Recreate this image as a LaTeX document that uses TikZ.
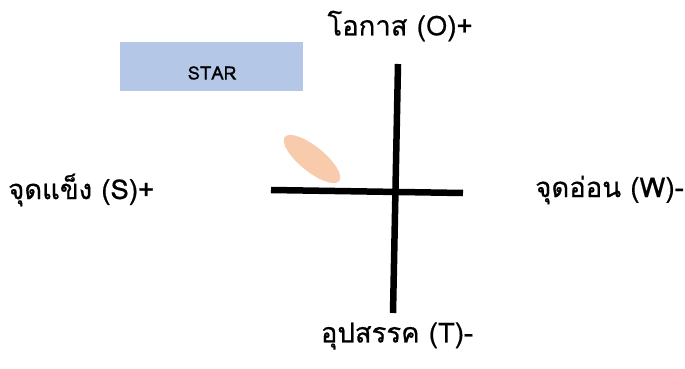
\documentclass[tikz,border=0pt]{standalone}
\usepackage{fontspec}
\usetikzlibrary{shapes.geometric}
\setmainfont{Loma}[Script=Thai]
\newfontfamily\lblfont{Loma}[Script=Thai, FakeBold=0.6]
\definecolor{starblue}{HTML}{B4C7E7}
\definecolor{peach}{HTML}{F8CBAD}
\begin{document}
\begin{tikzpicture}[x=1pt,y=-1pt,
  lbl/.style={font=\lblfont\fontsize{27.5}{31}\selectfont, inner sep=0pt},
  axis/.style={line width=6.5pt, black}]
\useasboundingbox (0,0) rectangle (685,369);
\node[fill=starblue, minimum width=183pt, minimum height=49pt, inner sep=0pt, anchor=north west] (star) at (120,42) {};
\node[font=\lblfont\fontsize{18.5}{22}\selectfont, inner sep=0pt] (startxt) at (212,73) {STAR};
\node[fill=peach, ellipse, minimum width=70pt, minimum height=25pt, inner sep=0pt, rotate=-39] (blob) at (312,159) {};
\coordinate (vt) at (398,64);
\coordinate (vb) at (393,313);
\coordinate (hl) at (271,190);
\coordinate (hr) at (463,193);
\draw[axis] (vt) -- (vb);
\draw[axis] (hl) -- (hr);
\node[lbl] (O) at (400,26) {โอกาส (O)+};
\node[lbl, anchor=west] (S) at (8,190) {จุดแข็ง (S)+};
\node[lbl, anchor=east] (W) at (684,190) {จุดอ่อน (W)-};
\node[lbl] (T) at (397,336) {อุปสรรค (T)-};
\end{tikzpicture}
\end{document}
